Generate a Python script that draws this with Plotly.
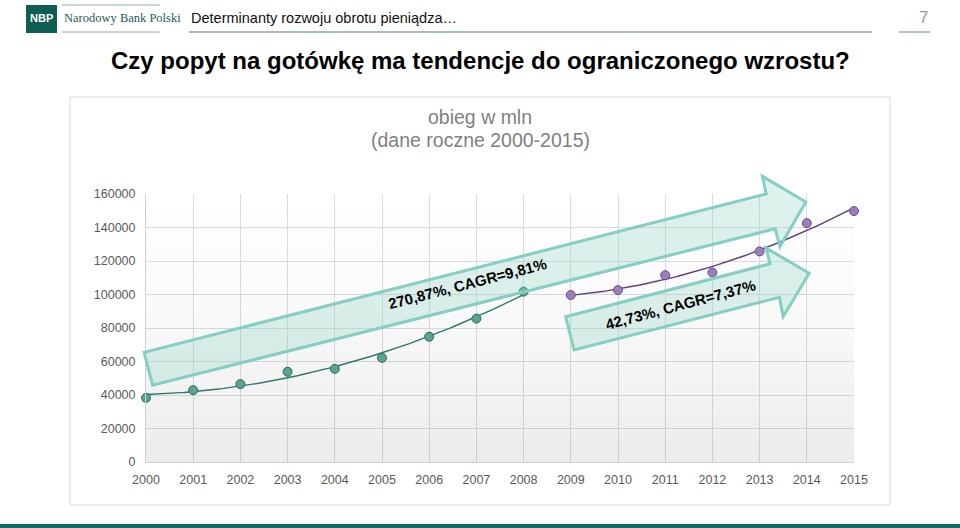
import numpy as np
import plotly.graph_objects as go

# ---------------- data ----------------
years_a = [2000, 2001, 2002, 2003, 2004, 2005, 2006, 2007, 2008]
obieg_a = [38300, 42900, 46500, 53900, 55600, 62200, 74800, 85600, 101700]
years_b = [2009, 2010, 2011, 2012, 2013, 2014, 2015]
obieg_b = [99700, 102600, 111500, 113100, 125700, 142600, 149800]
x_ticks = list(range(2000, 2016))
y_ticks = [0, 20000, 40000, 60000, 80000, 100000, 120000, 140000, 160000]
label_a = "270,87%, CAGR=9,81%"
label_b = "42,73%, CAGR=7,37%"

# ---------------- geometry / styles ----------------
W, H = 960, 528
ML, MR, MT, MB = 146, 106, 194, 66
PW, PH = W - ML - MR, H - MT - MB
XR = [2000, 2015]
YR = [0, 160000]

def px(x):  # pixel x -> paper x
    return (x - ML) / PW

def py(y):  # pixel y -> paper y
    return (H - MB - y) / PH

def dom(x, y):  # data -> domain fraction (unclipped shapes)
    return (x - XR[0]) / (XR[1] - XR[0]), (y - YR[0]) / (YR[1] - YR[0])

GREEN_LINE = "#2c7a6b"
GREEN_FILL = "#5aa393"
GREEN_EDGE = "#2a6a5e"
PURP_LINE = "#5b3f7c"
PURP_FILL = "#9a80b8"
PURP_EDGE = "#6a4d8c"
ARROW_FILL = "rgba(150,212,200,0.32)"
ARROW_EDGE = "#84cfc2"
FONT = "Liberation Sans, Arial, sans-serif"

fig = go.Figure()

# background gradient in plot area
fig.add_trace(go.Scatter(
    x=[XR[0], XR[1], XR[1], XR[0], XR[0]], y=[YR[0], YR[0], YR[1], YR[1], YR[0]],
    mode="none", fill="toself", hoverinfo="skip", showlegend=False,
    fillgradient=dict(type="vertical", start=YR[0], stop=YR[1],
                      colorscale=[[0, "rgba(0,0,0,0.075)"], [0.6, "rgba(0,0,0,0.02)"],
                                  [1, "rgba(0,0,0,0.0)"]]),
))

# trend lines (polynomial regressions of the data)
def trend(xs, ys, deg=2):
    c = np.polyfit(np.array(xs) - xs[0], np.array(ys), deg)
    xf = np.linspace(xs[0], xs[-1], 120)
    return xf, np.polyval(c, xf - xs[0])

for xs, ys, lc in [(years_a, obieg_a, GREEN_LINE), (years_b, obieg_b, PURP_LINE)]:
    xf, yf = trend(xs, ys)
    fig.add_trace(go.Scatter(x=xf, y=yf, mode="lines", line=dict(color=lc, width=1.4),
                             hoverinfo="skip", showlegend=False))

fig.add_trace(go.Scatter(x=years_a, y=obieg_a, mode="markers", showlegend=False,
                         marker=dict(size=9, color=GREEN_FILL, line=dict(color=GREEN_EDGE, width=1)),
                         cliponaxis=False))
fig.add_trace(go.Scatter(x=years_b, y=obieg_b, mode="markers", showlegend=False,
                         marker=dict(size=9, color=PURP_FILL, line=dict(color=PURP_EDGE, width=1)),
                         cliponaxis=False))

shapes = []
# chart frame
shapes.append(dict(type="rect", xref="paper", yref="paper", x0=px(70), x1=px(890), y0=py(97), y1=py(505),
                   line=dict(color="#d9d9d9", width=1), fillcolor="rgba(0,0,0,0)", layer="below"))

# arrows (vertices in data units)
arrow_a = [(1999.96, 65460), (2013.14, 160000), (2013.06, 170530), (2013.98, 155210),
           (2013.43, 128650), (2013.33, 139240), (2000.14, 45890)]
arrow_b = [(2008.89, 86760), (2013.22, 118300), (2013.14, 127690), (2014.05, 112730),
           (2013.50, 86760), (2013.42, 98370), (2009.07, 66840)]
for arr in (arrow_a, arrow_b):
    pts = [dom(x, y) for x, y in arr]
    path = "M " + " L ".join(f"{a:.5f},{b:.5f}" for a, b in pts) + " Z"
    shapes.append(dict(type="path", xref="x domain", yref="y domain", path=path,
                       fillcolor=ARROW_FILL, line=dict(color=ARROW_EDGE, width=3), layer="above"))

# header decorations
shapes.append(dict(type="rect", xref="paper", yref="paper", x0=px(26), x1=px(57), y0=py(33), y1=py(5),
                   fillcolor="#0e5c52", line=dict(width=0)))
for x0, x1, y, c in [(62, 160, 5, "#b7c9c6"), (62, 160, 32, "#b7c9c6"),
                     (189, 872, 32, "#8aa6a1"), (899, 930, 32, "#8aa6a1")]:
    shapes.append(dict(type="line", xref="paper", yref="paper", x0=px(x0), x1=px(x1), y0=py(y), y1=py(y),
                       line=dict(color=c, width=1.3)))
# bottom band
shapes.append(dict(type="rect", xref="paper", yref="paper", x0=px(-2), x1=px(W + 2), y0=py(H + 2), y1=py(524),
                   fillcolor="#0e6e62", line=dict(width=0)))

annotations = [
    dict(text="NBP", x=px(41.5), y=py(18.5), xref="paper", yref="paper", showarrow=False,
         font=dict(family=FONT, size=11, color="white", weight="bold"), xanchor="center", yanchor="middle"),
    dict(text="Narodowy Bank Polski", x=px(62), y=py(18), xref="paper", yref="paper", showarrow=False,
         font=dict(family="Liberation Serif, DejaVu Serif, serif", size=12.5, color="#1b5e54"),
         xanchor="left", yanchor="middle"),
    dict(text="Determinanty rozwoju obrotu pieniądza…", x=px(189), y=py(18), xref="paper", yref="paper",
         showarrow=False, font=dict(family=FONT, size=14.5, color="#111111"), xanchor="left", yanchor="middle"),
    dict(text="7", x=px(923), y=py(17), xref="paper", yref="paper", showarrow=False,
         font=dict(family=FONT, size=17, color="#9a9a9a"), xanchor="center", yanchor="middle"),
    dict(text="<b>Czy popyt na gotówkę ma tendencje do ograniczonego wzrostu?</b>", x=px(480), y=py(60),
         xref="paper", yref="paper", showarrow=False, font=dict(family=FONT, size=24, color="#000000"),
         xanchor="center", yanchor="middle"),
    dict(text="obieg w mln", x=px(480), y=py(117), xref="paper", yref="paper", showarrow=False,
         font=dict(family=FONT, size=19.5, color="#7f7f7f"), xanchor="center", yanchor="middle"),
    dict(text="(dane roczne 2000-2015)", x=px(480), y=py(140), xref="paper", yref="paper", showarrow=False,
         font=dict(family=FONT, size=19.5, color="#7f7f7f"), xanchor="center", yanchor="middle"),
    dict(text="<b>" + label_a + "</b>", x=2006.82, y=106500, xref="x", yref="y", showarrow=False,
         textangle=-14.5, font=dict(family=FONT, size=15, color="#000000")),
    dict(text="<b>" + label_b + "</b>", x=2011.33, y=94300, xref="x", yref="y", showarrow=False,
         textangle=-15, font=dict(family=FONT, size=15, color="#000000")),
]

fig.update_layout(
    width=W, height=H, autosize=False,
    margin=dict(l=ML, r=MR, t=MT, b=MB, pad=0),
    paper_bgcolor="white", plot_bgcolor="white",
    showlegend=False, shapes=shapes, annotations=annotations,
    font=dict(family=FONT),
)
fig.update_xaxes(range=XR, tickmode="array", tickvals=x_ticks, ticktext=[str(v) for v in x_ticks],
                 showgrid=True, gridcolor="#dcdcdc", gridwidth=1, zeroline=False,
                 showline=True, linecolor="#d0d0d0", ticks="", ticklabelstandoff=6,
                 tickfont=dict(family=FONT, size=12.5, color="#595959"), fixedrange=True)
fig.update_yaxes(range=YR, tickmode="array", tickvals=y_ticks, ticktext=[str(v) for v in y_ticks],
                 showgrid=True, gridcolor="#dcdcdc", gridwidth=1, zeroline=False,
                 showline=True, linecolor="#d0d0d0", ticks="", ticklabelstandoff=7,
                 tickfont=dict(family=FONT, size=12.5, color="#595959"), fixedrange=True)

fig.write_html("out.html")
